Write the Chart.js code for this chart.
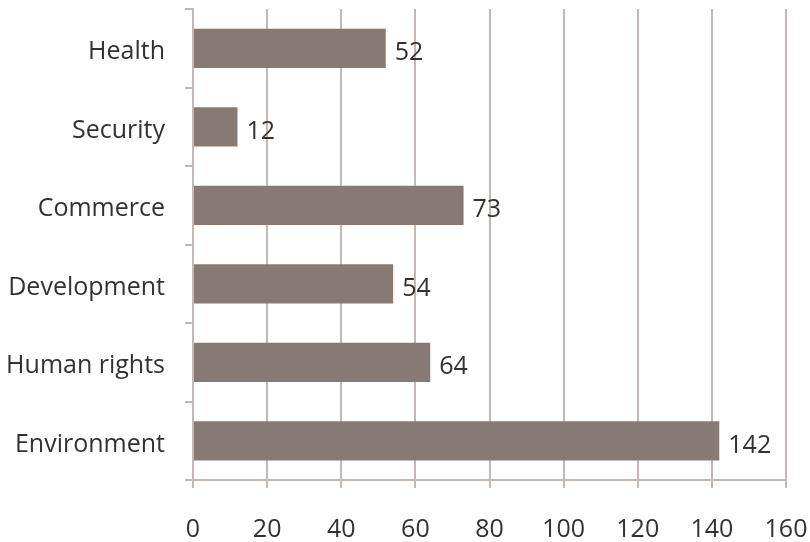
<!DOCTYPE html>
<html>
<head>
<meta charset="utf-8">
<script src="https://cdn.jsdelivr.net/npm/chart.js@4"></script>
<style>
  html, body { margin: 0; padding: 0; background: #fff; }
  #wrap { width: 810px; height: 542px; }
</style>
</head>
<body>
<div id="wrap"><canvas id="bar-chart"></canvas></div>
<script>
const categories = ["Health", "Security", "Commerce", "Development", "Human rights", "Environment"];
const counts = [52, 12, 73, 54, 64, 142];
const xTicks = [0, 20, 40, 60, 80, 100, 120, 140, 160];

const barColor = "rgb(135, 122, 117)";
const lineColor = "#c2b9b5";
const textColor = "#35312f";
const fontFamily = "'Open Sans', sans-serif";
const fontSize = 25;

// prints each value just past the end of its bar
const valueLabels = {
  id: "valueLabels",
  afterDatasetsDraw(chart) {
    const ctx = chart.ctx;
    const meta = chart.getDatasetMeta(0);
    ctx.save();
    ctx.font = fontSize + "px " + fontFamily;
    ctx.fillStyle = textColor;
    ctx.textAlign = "left";
    ctx.textBaseline = "middle";
    meta.data.forEach(function (bar, i) {
      ctx.fillText(String(counts[i]), bar.x + 9, bar.y + 5);
    });
    ctx.restore();
  },
};

new Chart("bar-chart", {
  type: "bar",
  data: {
    labels: categories,
    datasets: [
      {
        data: counts,
        backgroundColor: barColor,
        barPercentage: 0.5,
        categoryPercentage: 1,
      },
    ],
  },
  options: {
    indexAxis: "y",
    responsive: true,
    maintainAspectRatio: false,
    animation: false,
    layout: { padding: { top: 9, right: 24, left: 0, bottom: 0 } },
    plugins: {
      legend: { display: false },
      tooltip: { enabled: false },
    },
    scales: {
      x: {
        min: 0,
        max: 160,
        afterBuildTicks(scale) {
          scale.ticks = xTicks.map(function (v) { return { value: v }; });
        },
        afterFit(scale) {
          scale.height = 62;
          scale.paddingLeft = 0;
          scale.paddingRight = 0;
        },
        grid: { color: lineColor, lineWidth: 2, tickLength: 8 },
        border: { color: lineColor, width: 2 },
        ticks: {
          color: textColor,
          padding: 27,
          font: { family: fontFamily, size: fontSize },
        },
      },
      y: {
        afterFit(scale) {
          scale.width = 193;
          scale.paddingTop = 0;
          scale.paddingBottom = 0;
        },
        grid: {
          offset: true,
          drawOnChartArea: false,
          color: lineColor,
          lineWidth: 2,
          tickLength: 8,
        },
        border: { color: lineColor, width: 2 },
        ticks: {
          color: textColor,
          padding: 20,
          labelOffset: 4,
          font: { family: fontFamily, size: fontSize },
        },
      },
    },
  },
  plugins: [valueLabels],
});
</script>
</body>
</html>
